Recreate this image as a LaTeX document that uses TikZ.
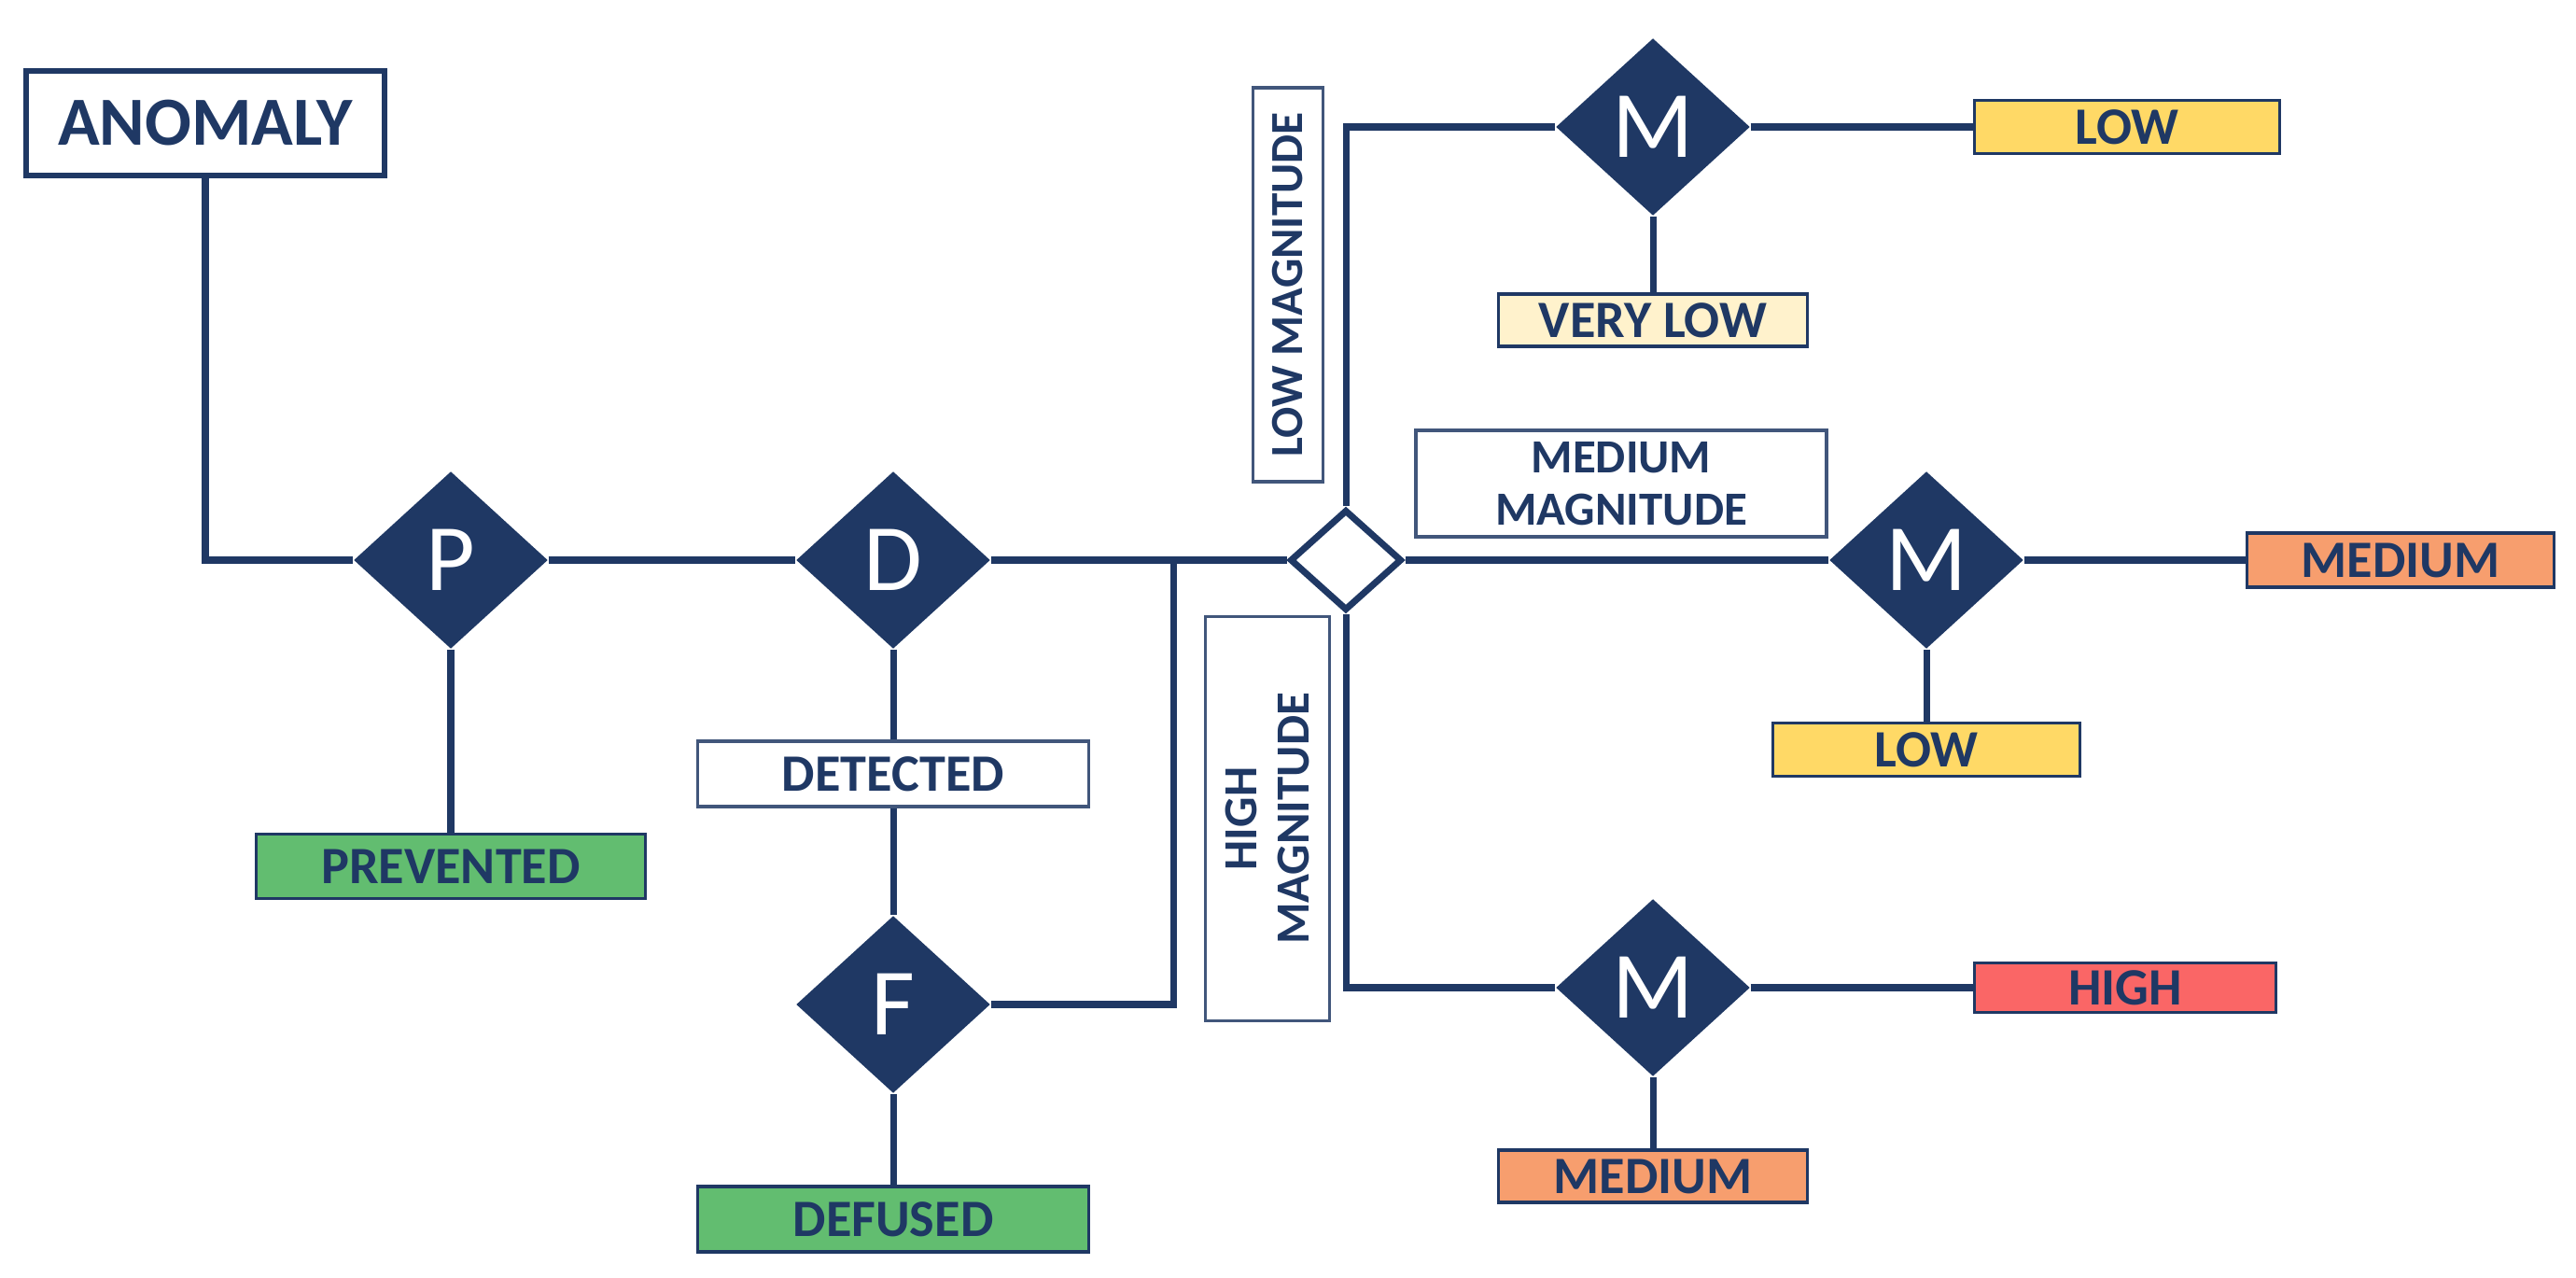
\documentclass[tikz,border=0pt]{standalone}
\usepackage{fontspec}
\setmainfont{Carlito}
\usetikzlibrary{shapes.geometric}

\definecolor{navy}{RGB}{31,56,100}
\definecolor{okgreen}{RGB}{98,189,112}
\definecolor{lowyellow}{RGB}{255,217,102}
\definecolor{paleyellow}{RGB}{255,242,204}
\definecolor{midorange}{RGB}{247,158,110}
\definecolor{highred}{RGB}{250,102,102}

\begin{document}
\begin{tikzpicture}[x=1cm, y=-1cm,
  wire/.style={navy, line width=2pt},
  gate/.style={diamond, fill=navy, text=white, inner sep=0pt, minimum width=2.08cm, minimum height=1.9cm, font=\fontsize{29}{31}\selectfont},
  hubgate/.style={diamond, draw=navy, line width=2pt, fill=white, inner sep=0pt, minimum width=1.2cm, minimum height=1.08cm},
  outcome/.style={draw=navy, line width=1pt, text=navy, inner sep=0pt, font=\fontsize{16}{18}\selectfont\bfseries},
  magbox/.style={draw=navy!85, line width=1pt, text=navy, inner sep=0pt, align=center, font=\fontsize{14.5}{16}\selectfont\bfseries}]
\useasboundingbox (0,0) rectangle (27.6,13.69);
% start and first gates
\node[draw=navy, line width=1.5pt, text=navy, font=\fontsize{21}{23}\selectfont\bfseries, minimum width=3.84cm, minimum height=1.12cm] (anomaly) at (2.20,1.32) {ANOMALY};
\node[gate] (P) at (4.83,6.00) {P};
\node[gate] (D) at (9.57,6.00) {D};
\node[gate] (F) at (9.57,10.76) {F};
\node[outcome, fill=okgreen, minimum width=4.17cm, minimum height=0.69cm] (prevented) at (4.83,9.28) {PREVENTED};
\node[outcome, fill=white, draw=navy!85, minimum width=4.19cm, minimum height=0.70cm] (detected) at (9.57,8.29) {DETECTED};
\node[outcome, fill=okgreen, minimum width=4.19cm, minimum height=0.70cm] (defused) at (9.57,13.06) {DEFUSED};
\coordinate (join) at (12.57,6.00);
% magnitude hub
\node[hubgate] (hub) at (14.42,6.00) {};
\node[magbox, rotate=90, font=\fontsize{14}{16}\selectfont\bfseries, minimum width=4.22cm, minimum height=0.75cm] (lowmag) at (13.80,3.05) {LOW MAGNITUDE};
\node[magbox, minimum width=4.40cm, minimum height=1.14cm] (medmag) at (17.37,5.18) {MEDIUM\\MAGNITUDE};
\node[magbox, rotate=90, minimum width=4.33cm, minimum height=1.33cm] (highmag) at (13.58,8.77) {HIGH\\MAGNITUDE};
% magnitude gates
\node[gate] (Mlow) at (17.71,1.36) {M};
\node[gate] (Mmid) at (20.64,6.00) {M};
\node[gate] (Mhigh) at (17.71,10.58) {M};
\node[outcome, fill=lowyellow, minimum width=3.27cm, minimum height=0.57cm] (lowA) at (22.79,1.36) {LOW};
\node[outcome, fill=paleyellow, minimum width=3.31cm, minimum height=0.56cm] (verylow) at (17.71,3.43) {VERY LOW};
\node[outcome, fill=midorange, minimum width=3.29cm, minimum height=0.58cm] (mediumA) at (25.72,6.00) {MEDIUM};
\node[outcome, fill=lowyellow, minimum width=3.29cm, minimum height=0.57cm] (lowB) at (20.64,8.03) {LOW};
\node[outcome, fill=highred, minimum width=3.23cm, minimum height=0.53cm] (high) at (22.77,10.58) {HIGH};
\node[outcome, fill=midorange, minimum width=3.31cm, minimum height=0.56cm] (mediumB) at (17.71,12.60) {MEDIUM};
% connectors
\draw[wire] (anomaly.south) |- (P.west);
\draw[wire] (P.east) -- (D.west);
\draw[wire] (P.south) -- (prevented.north);
\draw[wire] (D.south) -- (detected.north);
\draw[wire] (detected.south) -- (F.north);
\draw[wire] (F.south) -- (defused.north);
\draw[wire] (F.east) -| (join);
\draw[wire] (D.east) -- (hub.west);
\draw[wire] (hub.north) |- (Mlow.west);
\draw[wire] (hub.east) -- (Mmid.west);
\draw[wire] (hub.south) |- (Mhigh.west);
\draw[wire] (Mlow.east) -- (lowA.west);
\draw[wire] (Mlow.south) -- (verylow.north);
\draw[wire] (Mmid.east) -- (mediumA.west);
\draw[wire] (Mmid.south) -- (lowB.north);
\draw[wire] (Mhigh.east) -- (high.west);
\draw[wire] (Mhigh.south) -- (mediumB.north);
\end{tikzpicture}
\end{document}
